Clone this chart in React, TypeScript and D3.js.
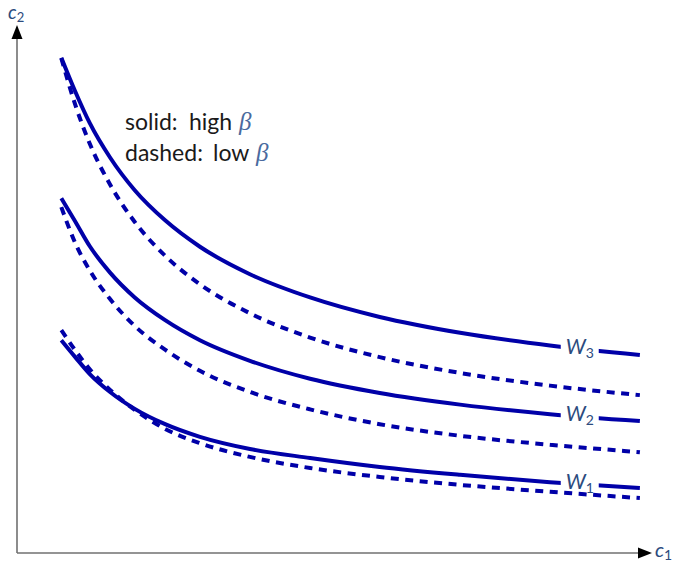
import React from 'react';
import * as d3 from 'd3';

// ---- data (units: c1 0..10, c2 0..10) ----
const c1Values = [0.70, 0.92, 1.15, 1.47, 1.86, 2.34, 2.89, 3.68, 4.63, 5.73, 7.00, 8.42, 9.84];
const w3High = [9.38, 8.74, 8.14, 7.49, 6.87, 6.30, 5.80, 5.28, 4.84, 4.47, 4.17, 3.93, 3.75];
const w3Low = [9.37, 8.49, 7.75, 6.98, 6.27, 5.63, 5.09, 4.54, 4.08, 3.71, 3.41, 3.17, 2.99];
const w2High = [6.72, 6.28, 5.81, 5.31, 4.84, 4.41, 4.03, 3.64, 3.30, 3.03, 2.81, 2.63, 2.50];
const w2Low = [6.55, 5.87, 5.35, 4.81, 4.30, 3.85, 3.45, 3.05, 2.72, 2.44, 2.22, 2.05, 1.91];
const w1High = [4.03, 3.71, 3.39, 3.05, 2.73, 2.44, 2.20, 1.97, 1.80, 1.63, 1.48, 1.34, 1.23];
const w1Low = [4.22, 3.84, 3.48, 3.09, 2.71, 2.35, 2.08, 1.82, 1.61, 1.44, 1.29, 1.16, 1.04];

const levelNames = ['3', '2', '1'];
const labelC1 = 8.89;
const gapFrom = 8.59;
const gapTo = 9.19;
const legendLines = [
  { words: ['solid:', 'high'], wordX: [125, 189], betaX: 239 },
  { words: ['dashed:', 'low'], wordX: [125, 213], betaX: 256 },
];

const WIDTH = 675;
const HEIGHT = 563;
const LINE = '#0000a8';
const TEXTBLUE = '#2c4b7e';

export default function App() {
  const x = d3.scaleLinear().domain([0, 10]).range([17, 650]);
  const y = d3.scaleLinear().domain([0, 10]).range([553, 25]);

  const line = d3
    .line<[number, number]>()
    .x((d) => x(d[0]))
    .y((d) => y(d[1]))
    .curve(d3.curveMonotoneX);

  const series = [
    { ys: w3High, dashed: false, level: 0 },
    { ys: w3Low, dashed: true, level: 0 },
    { ys: w2High, dashed: false, level: 1 },
    { ys: w2Low, dashed: true, level: 1 },
    { ys: w1High, dashed: false, level: 2 },
    { ys: w1Low, dashed: true, level: 2 },
  ];

  const ox = x(0);
  const oy = y(0);
  const xTip = x(10) + 2;
  const yTip = y(10);

  return (
    <svg
      width={WIDTH}
      height={HEIGHT}
      style={{ position: 'absolute', left: 0, top: 0, background: '#fff' }}
    >
      {/* axes */}
      <line x1={ox} y1={oy} x2={xTip - 12} y2={oy} stroke="#707070" strokeWidth={1.6} />
      <line x1={ox} y1={oy} x2={ox} y2={yTip + 12} stroke="#707070" strokeWidth={1.6} />
      <polygon points={`${xTip},${oy} ${xTip - 14},${oy - 5.5} ${xTip - 14},${oy + 5.5}`} fill="#000" />
      <polygon points={`${ox},${yTip} ${ox - 5.5},${yTip + 14} ${ox + 5.5},${yTip + 14}`} fill="#000" />

      {/* axis labels */}
      <text x={8} y={19} fontFamily="Lato" fontStyle="italic" fontSize={19} fill={TEXTBLUE}>
        c<tspan fontSize={13} dy={3} fontStyle="normal">2</tspan>
      </text>
      <text x={655} y={557} fontFamily="Lato" fontStyle="italic" fontSize={20} fill={TEXTBLUE}>
        c<tspan fontSize={14} dy={3} fontStyle="normal">1</tspan>
      </text>

      {/* curves */}
      {series.map((s, i) => (
        <path
          key={i}
          d={line(c1Values.map((v, j) => [v, s.ys[j]] as [number, number])) || ''}
          fill="none"
          stroke={LINE}
          strokeWidth={4}
          strokeDasharray={s.dashed ? '8 6.5' : undefined}
        />
      ))}

      {/* inline labels on solid curves */}
      {series
        .filter((s) => !s.dashed)
        .map((s, i) => {
          const interp = d3.scaleLinear().domain(c1Values).range(s.ys);
          const ly = y(interp(labelC1));
          return (
            <g key={'lab' + i}>
              <rect x={x(gapFrom)} y={ly - 5} width={x(gapTo) - x(gapFrom)} height={10} fill="#fff" />
              <text
                x={x(labelC1) - 14}
                y={ly + 5}
                fontFamily="Lato"
                fontStyle="italic"
                fontSize={21}
                fill={TEXTBLUE}
              >
                W<tspan fontSize={14} dy={4} fontStyle="normal">{levelNames[s.level]}</tspan>
              </text>
            </g>
          );
        })}

      {/* legend text */}
      {legendLines.map((l, i) => (
        <g key={'lg' + i}>
          {l.words.map((w, k) => (
            <text key={k} x={l.wordX[k]} y={130 + i * 31} fontFamily="Lato" fontSize={23} fill="#1a1a1a">
              {w}
            </text>
          ))}
          <text
            x={l.betaX}
            y={130 + i * 31}
            fontFamily="Liberation Serif"
            fontStyle="italic"
            fontSize={25}
            fill="#4a6a9e"
          >
            β
          </text>
        </g>
      ))}
    </svg>
  );
}
